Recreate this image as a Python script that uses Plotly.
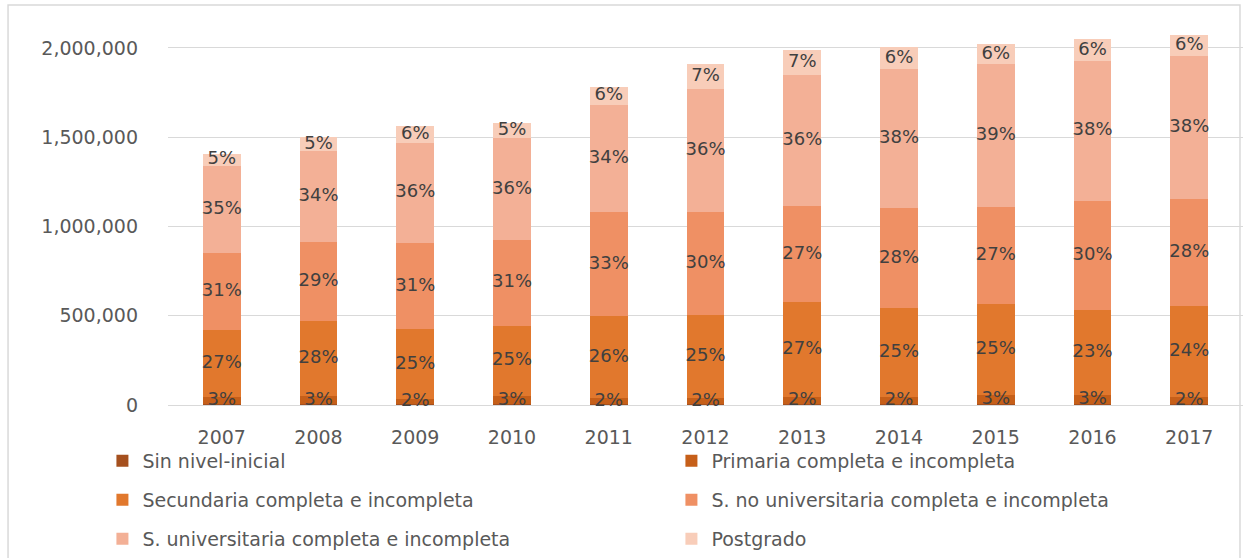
import plotly.graph_objects as go

years = ['2007', '2008', '2009', '2010', '2011', '2012', '2013', '2014', '2015', '2016', '2017']

# valores estimados (personas) por nivel educativo
sin_nivel = [3000, 3000, 3000, 3000, 3000, 3000, 3000, 3000, 3000, 3000, 3000]
primaria = [40000, 45000, 31000, 47000, 35000, 38000, 40000, 40000, 55000, 55000, 42000]
secundaria = [376000, 420000, 390000, 395000, 460000, 465000, 535000, 500000, 505000, 472000, 510000]
s_no_univ = [432000, 445000, 484000, 480000, 583000, 573000, 535000, 560000, 545000, 615000, 597000]
s_univ = [488000, 510000, 562000, 569000, 600000, 688000, 735000, 780000, 800000, 780000, 803000]
postgrado = [68000, 77000, 94000, 86000, 100000, 140000, 139000, 120000, 115000, 123000, 115000]

# etiquetas de porcentaje
pct_sin = ['', '', '', '', '', '', '', '', '', '', '']
pct_primaria = ['3%', '3%', '2%', '3%', '2%', '2%', '2%', '2%', '3%', '3%', '2%']
pct_secundaria = ['27%', '28%', '25%', '25%', '26%', '25%', '27%', '25%', '25%', '23%', '24%']
pct_s_no_univ = ['31%', '29%', '31%', '31%', '33%', '30%', '27%', '28%', '27%', '30%', '28%']
pct_s_univ = ['35%', '34%', '36%', '36%', '34%', '36%', '36%', '38%', '39%', '38%', '38%']
pct_postgrado = ['5%', '5%', '6%', '5%', '6%', '7%', '7%', '6%', '6%', '6%', '6%']

series = [
    ('Sin nivel-inicial', sin_nivel, pct_sin, '#A5501E', 'legend'),
    ('Primaria completa e incompleta', primaria, pct_primaria, '#C65F19', 'legend'),
    ('Secundaria completa e incompleta', secundaria, pct_secundaria, '#E1782D', 'legend2'),
    ('S. no universitaria completa e incompleta', s_no_univ, pct_s_no_univ, '#EF9064', 'legend2'),
    ('S. universitaria completa e incompleta', s_univ, pct_s_univ, '#F3B096', 'legend3'),
    ('Postgrado', postgrado, pct_postgrado, '#F8CDB9', 'legend3'),
]

FONT = 'DejaVu Sans'

fig = go.Figure()
for name, vals, txt, color, leg in series:
    fig.add_trace(go.Bar(
        x=years,
        y=vals,
        name=name,
        marker=dict(color=color, line=dict(width=0)),
        legend=leg,
        hoverinfo='x+y+name',
    ))

# etiquetas encima de todas las barras (a la mitad de cada segmento)
base = [0] * len(years)
for name, vals, txt, color, leg in series:
    mid = [b + v / 2 for b, v in zip(base, vals)]
    fig.add_trace(go.Scatter(
        x=years,
        y=mid,
        mode='text',
        text=txt,
        textposition='middle center',
        textfont=dict(family=FONT, size=18, color='#404040'),
        showlegend=False,
        hoverinfo='skip',
        cliponaxis=False,
    ))
    base = [b + v for b, v in zip(base, vals)]

legend_common = dict(
    orientation='h',
    x=-0.061,
    xanchor='left',
    yanchor='middle',
    traceorder='normal',
    entrywidth=524,
    entrywidthmode='pixels',
    font=dict(family=FONT, size=19, color='#595959'),
    bgcolor='rgba(0,0,0,0)',
    itemwidth=30,
)

fig.update_layout(
    width=1243,
    height=558,
    barmode='stack',
    bargap=0.61,
    plot_bgcolor='white',
    paper_bgcolor='white',
    margin=dict(l=168, r=0, t=30, b=153, autoexpand=False),
    font=dict(family=FONT, color='#595959'),
    legend=dict(legend_common, y=-0.149),
    legend2=dict(legend_common, y=-0.253),
    legend3=dict(legend_common, y=-0.357),
    xaxis=dict(
        showgrid=False,
        showline=False,
        ticks='',
        tickfont=dict(family=FONT, size=19, color='#595959'),
        ticklabelstandoff=19,
    ),
    yaxis=dict(
        range=[0, 2100000],
        tickvals=[0, 500000, 1000000, 1500000, 2000000],
        tickformat=',d',
        showgrid=True,
        gridcolor='#D9D9D9',
        gridwidth=1,
        zeroline=True,
        zerolinecolor='#D9D9D9',
        zerolinewidth=1,
        showline=False,
        ticks='',
        tickfont=dict(family=FONT, size=19, color='#595959'),
        ticklabelstandoff=29,
    ),
    shapes=[dict(
        type='rect', xref='paper', yref='paper',
        x0=-0.1488, x1=0.9972, y0=-0.5, y1=1.0667,
        line=dict(color='#D9D9D9', width=1.5),
        layer='below',
    )],
)

fig.write_html('out.html', config={'displayModeBar': False},
               post_script="document.body.style.margin='0';")
